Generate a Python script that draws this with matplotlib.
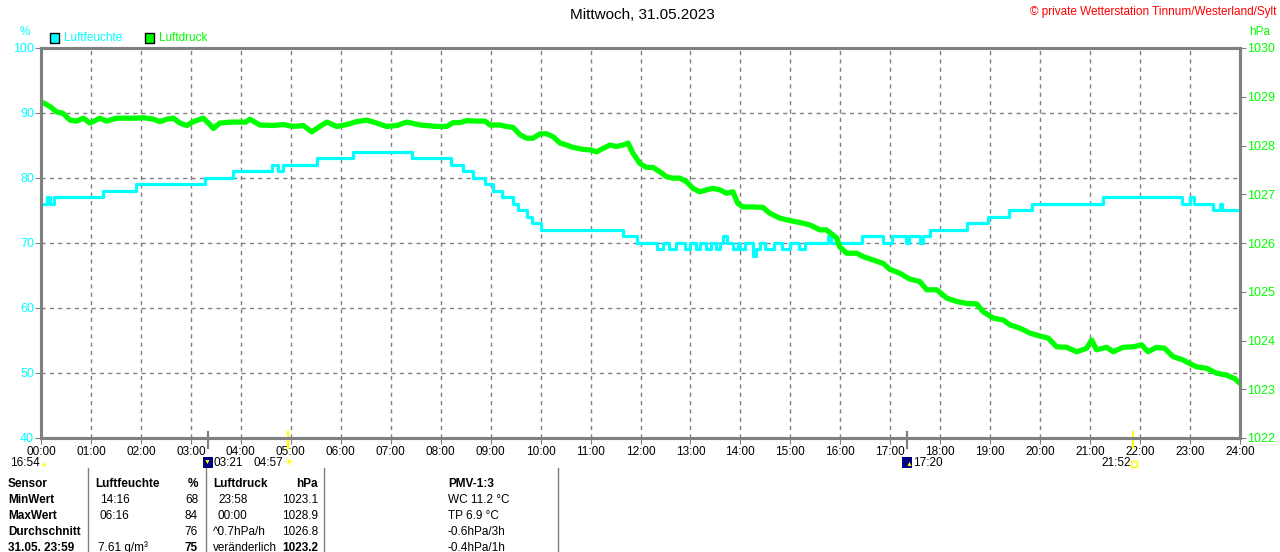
import numpy as np
import matplotlib.pyplot as plt
from matplotlib.patches import Rectangle
from matplotlib.transforms import blended_transform_factory

# ================================
# DATA
# ================================

TITLE = "Mittwoch, 31.05.2023"
COPYRIGHT = "© private Wetterstation Tinnum/Westerland/Sylt"

# humidity (%), step changes: minute of day -> new value
HUM_T = [0, 7, 11, 16, 74, 114, 197, 231, 277, 285, 291, 331, 375, 446,
         492, 507, 519, 533, 543, 554, 567, 573, 584, 590, 600, 699, 716,
         740, 747, 754, 763, 774, 780, 787, 792, 799, 805, 811, 816, 819, 824,
         831, 837, 840, 846, 855, 859, 864, 870, 880, 890, 900, 910, 918,
         945, 949, 986, 1011, 1022, 1039, 1042, 1056, 1059, 1068, 1112, 1137,
         1163, 1190, 1275, 1370, 1380, 1385, 1408, 1416, 1418, 1440]
HUM_V = [76, 77, 76, 77, 78, 79, 80, 81, 82, 81, 82, 83, 84, 83,
         82, 81, 80, 79, 78, 77, 76, 75, 74, 73, 72, 71, 70,
         69, 70, 69, 70, 69, 70, 69, 70, 69, 70, 69, 70, 71, 70,
         69, 70, 69, 70, 68, 69, 70, 69, 70, 69, 70, 69, 70,
         71, 70, 71, 70, 71, 70, 71, 70, 71, 72, 73, 74,
         75, 76, 77, 76, 77, 76, 75, 76, 75, 75]

# pressure (hPa), hour of day
P_H = [0.00, 0.18, 0.31, 0.44, 0.58, 0.71, 0.85, 0.98, 1.18, 1.31, 1.51, 1.72,
       1.92, 2.05, 2.25, 2.38, 2.52, 2.65, 2.78, 2.92, 3.05, 3.25, 3.38, 3.45,
       3.58, 3.80, 4.10, 4.18, 4.38, 4.65, 4.85, 5.05, 5.25, 5.42, 5.58, 5.72,
       5.92, 6.12, 6.32, 6.52, 6.72, 6.92, 7.12, 7.32, 7.59, 7.92, 8.12, 8.25,
       8.39, 8.52, 8.72, 8.89, 8.99, 9.19, 9.32, 9.45, 9.59, 9.72, 9.85, 9.99,
       10.12, 10.25, 10.39, 10.52, 10.65, 10.85, 10.99, 11.12, 11.25, 11.39,
       11.52, 11.65, 11.75, 11.85, 11.99, 12.12, 12.25, 12.39, 12.52, 12.65,
       12.79, 12.92, 13.05, 13.19, 13.32, 13.45, 13.59, 13.72, 13.85, 13.95,
       14.05, 14.25, 14.45, 14.59, 14.79, 14.99, 15.19, 15.39, 15.59, 15.72,
       15.93, 15.99, 16.13, 16.33, 16.46, 16.66, 16.86, 16.99, 17.19, 17.39,
       17.59, 17.73, 17.93, 18.13, 18.33, 18.53, 18.73, 18.86, 19.06, 19.26,
       19.40, 19.60, 19.80, 20.00, 20.16, 20.33, 20.53, 20.73, 20.93, 21.03,
       21.13, 21.33, 21.46, 21.66, 21.86, 22.03, 22.16, 22.33, 22.49, 22.66,
       22.86, 22.99, 23.13, 23.33, 23.53, 23.73, 23.89, 24.00]
P_V = [1028.90, 1028.80, 1028.69, 1028.66, 1028.52, 1028.50, 1028.56, 1028.46,
       1028.56, 1028.50, 1028.56, 1028.56, 1028.56, 1028.57, 1028.54, 1028.49,
       1028.54, 1028.56, 1028.46, 1028.41, 1028.49, 1028.56, 1028.43, 1028.35,
       1028.46, 1028.48, 1028.48, 1028.54, 1028.42, 1028.41, 1028.43, 1028.39,
       1028.41, 1028.28, 1028.39, 1028.48, 1028.39, 1028.43, 1028.49, 1028.52,
       1028.46, 1028.39, 1028.41, 1028.48, 1028.42, 1028.39, 1028.39, 1028.47,
       1028.47, 1028.51, 1028.50, 1028.50, 1028.42, 1028.42, 1028.39, 1028.37,
       1028.22, 1028.15, 1028.15, 1028.24, 1028.24, 1028.18, 1028.05, 1028.01,
       1027.96, 1027.92, 1027.91, 1027.87, 1027.94, 1028.01, 1027.98, 1028.01,
       1028.05, 1027.84, 1027.63, 1027.55, 1027.55, 1027.46, 1027.36, 1027.33,
       1027.33, 1027.26, 1027.12, 1027.05, 1027.09, 1027.12, 1027.09, 1027.02,
       1027.05, 1026.81, 1026.74, 1026.74, 1026.73, 1026.61, 1026.51, 1026.46,
       1026.42, 1026.37, 1026.27, 1026.27, 1026.10, 1025.92, 1025.79, 1025.79,
       1025.72, 1025.65, 1025.58, 1025.46, 1025.38, 1025.26, 1025.21, 1025.04,
       1025.04, 1024.87, 1024.80, 1024.76, 1024.75, 1024.59, 1024.46, 1024.42,
       1024.32, 1024.25, 1024.15, 1024.09, 1024.05, 1023.87, 1023.86, 1023.77,
       1023.84, 1024.01, 1023.81, 1023.86, 1023.77, 1023.86, 1023.87, 1023.91,
       1023.77, 1023.86, 1023.84, 1023.67, 1023.60, 1023.53, 1023.46, 1023.43,
       1023.33, 1023.29, 1023.22, 1023.12]

X_LABELS = ["%02d:00" % h for h in range(25)]

# sun / moon events (minute of day)
MOON_EVENTS = [201, 1040]     # 03:21 moonset, 17:20 moonrise
SUN_EVENTS = [297, 1312]      # 04:57 sunrise, 21:52 sunset

TABLE_ROWS = ["Sensor", "MinWert", "MaxWert", "Durchschnitt", "31.05. 23:59"]
HUM_TIME = ["", "14:16", "06:16", "", "7.61 g/m³"]
HUM_VAL = ["%", "68", "84", "76", "75"]
P_TIME = ["", "23:58", "00:00", "^0.7hPa/h", "veränderlich"]
P_VAL = ["hPa", "1023.1", "1028.9", "1026.8", "1023.2"]
EXTRA = ["PMV-1:3", "WC 11.2 °C", "TP 6.9 °C", "-0.6hPa/3h", "-0.4hPa/1h"]

CYAN = "#00ffff"
GREEN = "#00ff00"
GRAY = "#808080"
YELLOW = "#ffff00"

W, H = 1280, 552
plt.rcParams['font.family'] = ['Liberation Sans', 'DejaVu Sans']


def px(x, y):
    return x / W, 1 - y / H


# ================================
# PLOT
# ================================

fig = plt.figure(figsize=(W / 100, H / 100), dpi=100)
ax = fig.add_axes([41 / W, 1 - 438 / H, 1199 / W, 390 / H])
ax.set_xlim(0, 1440)
ax.set_ylim(40, 100)
ax.set_xticks(np.arange(0, 1441, 60))
ax.set_xticklabels(X_LABELS)
ax.set_yticks(np.arange(40, 101, 10))
ax.grid(True, color=GRAY, lw=1, linestyle=(0, (3, 3)))
ax.tick_params(axis='x', length=4, color=GRAY, labelsize=8.5, pad=2)
ax.tick_params(axis='y', length=4, color=GRAY, labelcolor=CYAN, labelsize=9, pad=1)
for s in ax.spines.values():
    s.set_color(GRAY)
    s.set_linewidth(2.2)

ax.step(HUM_T, HUM_V, where='post', color=CYAN, lw=2.3, zorder=3)

ax2 = ax.twinx()
ax2.set_ylim(1022, 1030)
ax2.set_yticks(np.arange(1022, 1031, 1))
ax2.tick_params(axis='y', length=4, color=GRAY, labelcolor=GREEN, labelsize=9, pad=1)
for s in ax2.spines.values():
    s.set_color(GRAY)
    s.set_linewidth(2.2)
ax2.plot(np.array(P_H) * 60, P_V, color=GREEN, lw=3.8)

# sun / moon markers on the time axis
tr = blended_transform_factory(ax.transData, ax.transAxes)
for m in MOON_EVENTS:
    ax.plot([m, m], [0.015, -0.026], transform=tr, color=GRAY, lw=1.6, clip_on=False)
for m in SUN_EVENTS:
    ax.plot([m, m], [0.015, -0.026], transform=tr, color=YELLOW, lw=1.6, clip_on=False)

# titles and axis units
fig.text(*px(642, 15), TITLE, ha='center', va='center', fontsize=11)
fig.text(*px(1276, 12), COPYRIGHT, ha='right', va='center', fontsize=8.5, color='red')
fig.text(*px(25, 32), "%", ha='center', va='center', fontsize=8.5, color=CYAN)
fig.text(*px(1249, 32), "hPa", ha='left', va='center', fontsize=8.5, color=GREEN)

# legend
fig.patches.append(Rectangle(px(50, 43), 9 / W, 10 / H, transform=fig.transFigure,
                             facecolor=CYAN, edgecolor='black', lw=1))
fig.text(*px(64, 38), "Luftfeuchte", ha='left', va='center', fontsize=8.5, color=CYAN)
fig.patches.append(Rectangle(px(145, 43), 9 / W, 10 / H, transform=fig.transFigure,
                             facecolor=GREEN, edgecolor='black', lw=1))
fig.text(*px(159, 38), "Luftdruck", ha='left', va='center', fontsize=8.5, color=GREEN)

# sun / moon time row
ty = 463
fig.text(*px(10, ty), "16:54", ha='left', va='center', fontsize=8.5)
fig.text(*px(44, ty + 1), "\u25b2", ha='center', va='center', fontsize=5, color=YELLOW)
fig.patches.append(Rectangle(px(203, 468), 10 / W, 11 / H, transform=fig.transFigure,
                             facecolor='#000080', edgecolor='none'))
fig.text(*px(207, ty - 1), "\u25bc", ha='center', va='center', fontsize=5, color=YELLOW)
fig.text(*px(214, ty), "03:21", ha='left', va='center', fontsize=8.5)
fig.text(*px(253, ty), "04:57", ha='left', va='center', fontsize=8.5)
fig.text(*px(288, ty), "\u2600", ha='center', va='center', fontsize=8, color=YELLOW,
         family=['DejaVu Sans'])
fig.patches.append(Rectangle(px(902, 468), 10 / W, 11 / H, transform=fig.transFigure,
                             facecolor='#000080', edgecolor='none'))
fig.text(*px(909, ty + 1), "\u25b2", ha='center', va='center', fontsize=5, color=YELLOW)
fig.text(*px(913, ty), "17:20", ha='left', va='center', fontsize=8.5)
fig.text(*px(1101, ty), "21:52", ha='left', va='center', fontsize=8.5)
fig.patches.append(Rectangle(px(1131, 467), 6 / W, 6 / H, transform=fig.transFigure,
                             facecolor='none', edgecolor=YELLOW, lw=1))

# table
for xs in [88, 206, 324, 558]:
    fig.add_artist(plt.Line2D([xs / W, xs / W], [1 - 468 / H, 0], transform=fig.transFigure,
                              color=GRAY, lw=1))
for i, row in enumerate(TABLE_ROWS):
    y = 484 + 16 * i
    head = (i == 0)
    fig.text(*px(8, y), row, ha='left', va='center', fontsize=8.5, fontweight='bold')
    if head:
        fig.text(*px(95, y), "Luftfeuchte", ha='left', va='center', fontsize=8.5, fontweight='bold')
        fig.text(*px(213, y), "Luftdruck", ha='left', va='center', fontsize=8.5, fontweight='bold')
    else:
        fig.text(*px(98 if i == 4 else 100, y), HUM_TIME[i], ha='left', va='center', fontsize=8.5)
        fig.text(*px(213 if i >= 3 else 218, y), P_TIME[i], ha='left', va='center', fontsize=8.5)
    bold = head or i == 4
    fig.text(*px(198, y), HUM_VAL[i], ha='right', va='center', fontsize=8.5,
             fontweight='bold' if bold else 'normal')
    fig.text(*px(318, y), P_VAL[i], ha='right', va='center', fontsize=8.5,
             fontweight='bold' if bold else 'normal')
    fig.text(*px(448, y), EXTRA[i], ha='left', va='center', fontsize=8.5,
             fontweight='bold' if head else 'normal')

fig.savefig("out.png", dpi=100)
